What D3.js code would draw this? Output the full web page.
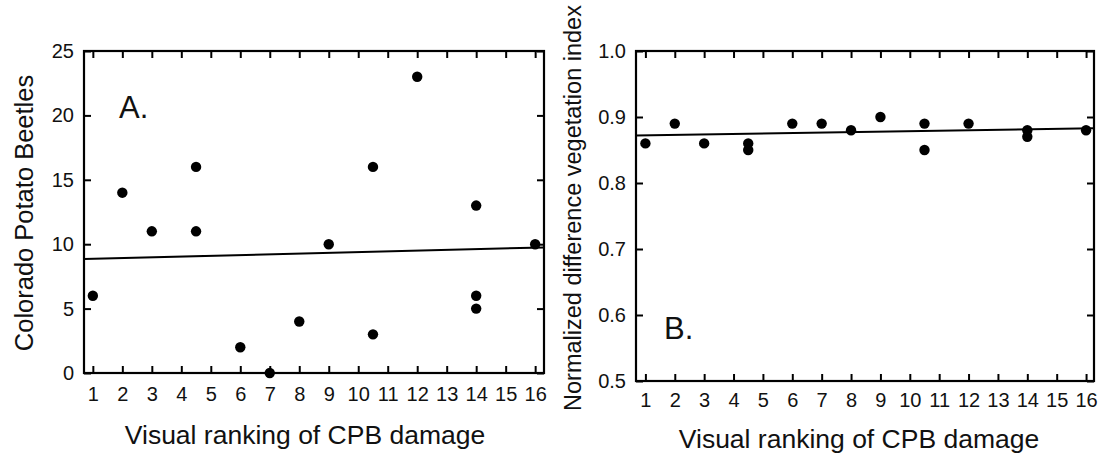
<!DOCTYPE html>
<html>
<head>
<meta charset="utf-8">
<script src="https://cdnjs.cloudflare.com/ajax/libs/d3/7.8.5/d3.min.js"></script>
<style>
body { margin: 0; background: #fff; }
svg text { font-family: "Liberation Sans", Arial, sans-serif; fill: #111; }
</style>
</head>
<body>
<svg width="1098" height="453"></svg>
<script>
// tick labels
var rankTicks = [1, 2, 3, 4, 5, 6, 7, 8, 9, 10, 11, 12, 13, 14, 15, 16];
var beetleTicks = [0, 5, 10, 15, 20, 25];
var ndviTicks = [0.5, 0.6, 0.7, 0.8, 0.9, 1.0];

// panel A: beetles vs damage rank
var rankA = [1, 2, 3, 4.5, 4.5, 6, 7, 8, 9, 10.5, 10.5, 12, 14, 14, 14, 16];
var beetles = [6, 14, 11, 16, 11, 2, 0, 4, 10, 16, 3, 23, 13, 6, 5, 10];
var fitAx = [0.7, 16.3];
var fitAy = [8.85, 9.75];

// panel B: NDVI vs damage rank
var rankB = [1, 2, 3, 4.5, 4.5, 6, 7, 8, 9, 10.5, 10.5, 12, 14, 14, 16];
var ndvi = [0.86, 0.89, 0.86, 0.86, 0.85, 0.89, 0.89, 0.88, 0.90, 0.89, 0.85, 0.89, 0.88, 0.87, 0.88];
var fitBx = [0.68, 16.27];
var fitBy = [0.872, 0.883];

(function() {
    var svg = d3.select("svg");

    var panelA = makePanel(svg, {left: 84, right: 544, top: 51, bottom: 373,
        xDomain: [0.7, 16.3], yDomain: [0, 25], yTicks: beetleTicks, fmt: d3.format("d"), xPad: 14});
    var panelB = makePanel(svg, {left: 636, right: 1094, top: 51, bottom: 381,
        xDomain: [0.68, 16.27], yDomain: [0.5, 1.0], yTicks: ndviTicks, fmt: d3.format(".1f"), xPad: 12});

    addFit(panelA, fitAx, fitAy);
    addFit(panelB, fitBx, fitBy);
    addPoints(panelA, rankA, beetles);
    addPoints(panelB, rankB, ndvi);

    // titles
    addText(svg, 305, 444, "Visual ranking of CPB damage", 26.5, 0);
    addText(svg, 859, 448, "Visual ranking of CPB damage", 26.5, 0);
    addText(svg, 33, 213, "Colorado Potato Beetles", 25.5, -90);
    addText(svg, 581, 208, "Normalized difference vegetation index", 23.5, -90);

    svg.append("text").attr("x", 119).attr("y", 118).style("font-size", "31px").text("A.");
    svg.append("text").attr("x", 664).attr("y", 339).style("font-size", "31px").text("B.");
})();

function makePanel(svg, p) {
    var x = d3.scaleLinear().domain(p.xDomain).range([p.left, p.right]);
    var y = d3.scaleLinear().domain(p.yDomain).range([p.bottom, p.top]);
    var g = svg.append("g");

    var axes = [
        [d3.axisBottom(x).tickValues(rankTicks).tickPadding(p.xPad), "translate(0," + p.bottom + ")"],
        [d3.axisTop(x).tickValues(rankTicks).tickFormat(""), "translate(0," + p.top + ")"],
        [d3.axisLeft(y).tickValues(p.yTicks).tickFormat(p.fmt).tickPadding(10), "translate(" + p.left + ",0)"],
        [d3.axisRight(y).tickValues(p.yTicks).tickFormat(""), "translate(" + p.right + ",0)"]
    ];
    axes.forEach(function(a) {
        var ax = g.append("g").attr("transform", a[1])
            .call(a[0].tickSizeInner(-7).tickSizeOuter(0));
        ax.select(".domain").remove();
        ax.attr("font-family", null).attr("font-size", null);
        ax.selectAll("line").attr("stroke", "#000").attr("stroke-width", 2);
        ax.selectAll("text").attr("fill", null).style("font-size", "20px");
    });

    g.append("rect")
        .attr("x", p.left).attr("y", p.top)
        .attr("width", p.right - p.left).attr("height", p.bottom - p.top)
        .attr("fill", "none").attr("stroke", "#000").attr("stroke-width", 2.2);

    return {g: g, x: x, y: y};
}

function addFit(panel, xs, ys) {
    var line = d3.line()
        .x(function(d) { return panel.x(d[0]); })
        .y(function(d) { return panel.y(d[1]); });
    panel.g.append("path")
        .datum(d3.zip(xs, ys))
        .attr("d", line)
        .attr("fill", "none").attr("stroke", "#000").attr("stroke-width", 2);
}

function addPoints(panel, xs, ys) {
    panel.g.selectAll("circle.pt").data(d3.zip(xs, ys)).enter().append("circle")
        .attr("class", "pt")
        .attr("cx", function(d) { return panel.x(d[0]); })
        .attr("cy", function(d) { return panel.y(d[1]); })
        .attr("r", 5.2)
        .attr("fill", "#000");
}

function addText(svg, x, y, txt, size, rot) {
    svg.append("text")
        .attr("transform", "translate(" + x + "," + y + ") rotate(" + rot + ")")
        .attr("text-anchor", "middle")
        .style("font-size", size + "px")
        .text(txt);
}
</script>
</body>
</html>
